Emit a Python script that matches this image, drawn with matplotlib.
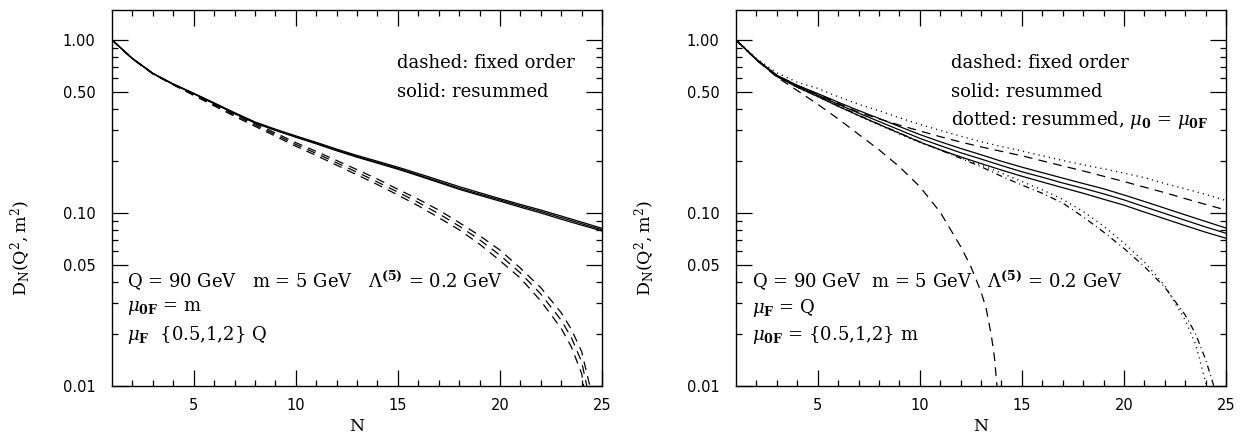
import matplotlib
matplotlib.use('Agg')
import matplotlib.pyplot as plt
from matplotlib.ticker import FixedLocator, FixedFormatter, NullFormatter

plt.rcParams['font.family'] = 'DejaVu Serif'
plt.rcParams['mathtext.fontset'] = 'dejavuserif'

# N values
N_all = [1, 2, 3, 4, 5, 6, 7, 8, 9, 10, 11, 12, 13, 14, 15, 16, 17, 18, 19, 20, 21, 22, 23, 24, 25]

# left panel: resummed (solid), mu_F = {0.5,1,2} Q
left_solid_a = [1, 0.782, 0.642, 0.557, 0.492, 0.433, 0.380, 0.336, 0.305, 0.279, 0.256, 0.234, 0.215, 0.199, 0.184,
                0.169, 0.155, 0.142, 0.131, 0.121, 0.112, 0.104, 0.096, 0.0885, 0.0815]
left_solid_b = [1, 0.780, 0.640, 0.555, 0.490, 0.430, 0.377, 0.333, 0.302, 0.276, 0.253, 0.231, 0.212, 0.196, 0.181,
                0.166, 0.152, 0.139, 0.1285, 0.119, 0.110, 0.102, 0.094, 0.0867, 0.080]
left_solid_c = [1, 0.778, 0.638, 0.553, 0.488, 0.428, 0.375, 0.331, 0.300, 0.274, 0.251, 0.229, 0.210, 0.194, 0.179,
                0.164, 0.150, 0.137, 0.1265, 0.117, 0.108, 0.100, 0.092, 0.0850, 0.0787]

# left panel: fixed order (dashed)
N_fo_a = [1, 2, 3, 4, 5, 6, 7, 8, 9, 10, 11, 12, 13, 14, 15, 16, 17, 18, 19, 20, 21, 22, 23, 23.5, 24, 24.1]
left_fo_a = [1, 0.778, 0.637, 0.550, 0.478, 0.416, 0.362, 0.317, 0.278, 0.243, 0.215, 0.189, 0.166, 0.146, 0.127,
             0.110, 0.094, 0.080, 0.066, 0.053, 0.042, 0.031, 0.0215, 0.0168, 0.0118, 0.01]
N_fo_b = [1, 2, 3, 4, 5, 6, 7, 8, 9, 10, 11, 12, 13, 14, 15, 16, 17, 18, 19, 20, 21, 22, 23, 23.5, 24, 24.25]
left_fo_b = [1, 0.779, 0.638, 0.552, 0.482, 0.422, 0.368, 0.323, 0.284, 0.249, 0.221, 0.195, 0.172, 0.151, 0.132,
             0.115, 0.099, 0.084, 0.070, 0.057, 0.045, 0.034, 0.024, 0.019, 0.0138, 0.01]
N_fo_c = [1, 2, 3, 4, 5, 6, 7, 8, 9, 10, 11, 12, 13, 14, 15, 16, 17, 18, 19, 20, 21, 22, 23, 23.5, 24, 24.4]
left_fo_c = [1, 0.780, 0.640, 0.554, 0.486, 0.428, 0.374, 0.329, 0.290, 0.255, 0.227, 0.201, 0.178, 0.157, 0.137,
             0.120, 0.104, 0.088, 0.074, 0.061, 0.048, 0.037, 0.0265, 0.0212, 0.0158, 0.01]

# right panel: resummed (solid), mu_0F = {0.5,1,2} m
right_solid_hi = [1, 0.772, 0.625, 0.547, 0.490, 0.437, 0.391, 0.352, 0.316, 0.284, 0.258, 0.236, 0.217, 0.199, 0.184,
                  0.171, 0.159, 0.148, 0.138, 0.127, 0.1165, 0.1066, 0.0975, 0.0893, 0.0818]
right_solid_mid = [1, 0.770, 0.620, 0.540, 0.480, 0.425, 0.378, 0.338, 0.302, 0.270, 0.245, 0.223, 0.205, 0.188, 0.173,
                   0.161, 0.149, 0.139, 0.129, 0.119, 0.1086, 0.0993, 0.0907, 0.083, 0.0763]
right_solid_lo = [1, 0.768, 0.615, 0.533, 0.471, 0.414, 0.366, 0.325, 0.289, 0.257, 0.232, 0.211, 0.193, 0.177, 0.163,
                  0.151, 0.140, 0.130, 0.120, 0.111, 0.1012, 0.0925, 0.0845, 0.0774, 0.0714]

# right panel: fixed order (dashed)
right_fo_hi = [1, 0.77, 0.625, 0.545, 0.487, 0.430, 0.382, 0.350, 0.322, 0.298, 0.276, 0.257, 0.241, 0.227, 0.214,
               0.200, 0.187, 0.175, 0.163, 0.152, 0.141, 0.131, 0.121, 0.112, 0.104]
N_fo_steep = [1, 2, 3, 4, 5, 6, 7, 8, 9, 10, 11, 12, 12.5, 13, 13.25, 13.5, 13.65, 13.78]
right_fo_steep = [1, 0.765, 0.61, 0.51, 0.425, 0.35, 0.285, 0.232, 0.185, 0.142, 0.101, 0.064, 0.049, 0.035, 0.028,
                  0.0197, 0.0148, 0.01]
N_fo_dd = [1, 2, 3, 4, 5, 6, 7, 8, 9, 10, 11, 12, 13, 14, 15, 16, 17, 18, 19, 20, 21, 22, 23, 23.5, 24, 24.4]
right_fo_dd = [1, 0.77, 0.617, 0.535, 0.474, 0.417, 0.368, 0.326, 0.290, 0.258, 0.231, 0.207, 0.185, 0.163, 0.145,
               0.130, 0.114, 0.095, 0.0776, 0.0624, 0.049, 0.0372, 0.0257, 0.0201, 0.0142, 0.01]

# right panel: resummed with mu_0 = mu_0F (dotted)
right_dot_hi = [1, 0.78, 0.645, 0.57, 0.525, 0.470, 0.425, 0.390, 0.355, 0.325, 0.300, 0.278, 0.258, 0.242, 0.228,
                0.214, 0.201, 0.190, 0.180, 0.170, 0.160, 0.148, 0.138, 0.128, 0.118]
N_dot_lo = [1, 2, 3, 4, 5, 6, 7, 8, 9, 10, 11, 12, 13, 14, 15, 16, 17, 18, 19, 20, 21, 22, 23, 23.5, 24.05]
right_dot_lo = [1, 0.77, 0.615, 0.532, 0.470, 0.413, 0.364, 0.322, 0.287, 0.256, 0.231, 0.209, 0.189, 0.170, 0.152,
                0.136, 0.120, 0.102, 0.084, 0.067, 0.052, 0.038, 0.024, 0.0175, 0.01]

ytick_major = [0.01, 0.05, 0.1, 0.5, 1.0]
ytick_labels = ['0.01', '0.05', '0.10', '0.50', '1.00']
ytick_minor = [0.02, 0.03, 0.04, 0.06, 0.07, 0.08, 0.09, 0.2, 0.3, 0.4, 0.6, 0.7, 0.8, 0.9]

dash = (0, (7, 5))
dashdot = (0, (5, 3, 0.8, 3))
dot = (0, (0.8, 3))

fig = plt.figure(figsize=(12.45, 4.34), dpi=100)
ax1 = fig.add_axes([0.0900, 0.1106, 0.3936, 0.8664])
ax2 = fig.add_axes([0.5912, 0.1106, 0.3936, 0.8664])

lw = 0.9
# left
for ys in [left_solid_a, left_solid_b, left_solid_c]:
    ax1.plot(N_all, ys, color='black', lw=lw)
ax1.plot(N_fo_a, left_fo_a, color='black', lw=lw, ls=dash)
ax1.plot(N_fo_b, left_fo_b, color='black', lw=lw, ls=dash)
ax1.plot(N_fo_c, left_fo_c, color='black', lw=lw, ls=dash)

# right
for ys in [right_solid_hi, right_solid_mid, right_solid_lo]:
    ax2.plot(N_all, ys, color='black', lw=lw)
ax2.plot(N_all, right_fo_hi, color='black', lw=lw, ls=dash)
ax2.plot(N_fo_steep, right_fo_steep, color='black', lw=lw, ls=dash)
ax2.plot(N_fo_dd, right_fo_dd, color='black', lw=lw, ls=dashdot)
ax2.plot(N_all, right_dot_hi, color='black', lw=1.0, ls=dot)
ax2.plot(N_dot_lo, right_dot_lo, color='black', lw=1.0, ls=dot)

for ax in [ax1, ax2]:
    ax.set_yscale('log')
    ax.set_xlim(1, 25)
    ax.set_ylim(0.01, 1.49)
    ax.set_xticks([5, 10, 15, 20, 25])
    ax.set_xticks(range(2, 25), minor=True)
    ax.yaxis.set_major_locator(FixedLocator(ytick_major))
    ax.yaxis.set_major_formatter(FixedFormatter(ytick_labels))
    ax.yaxis.set_minor_locator(FixedLocator(ytick_minor))
    ax.yaxis.set_minor_formatter(NullFormatter())
    ax.tick_params(which='both', direction='in', top=True, right=True, width=0.9)
    ax.tick_params(which='major', length=11.5)
    ax.tick_params(which='minor', length=4.3)
    ax.tick_params(axis='y', which='major', pad=12)
    ax.tick_params(axis='x', which='major', pad=9)
    for lab in ax.get_xticklabels() + ax.get_yticklabels():
        lab.set_fontfamily('DejaVu Sans')
        lab.set_fontsize(10.5)
    for sp in ax.spines.values():
        sp.set_linewidth(1.0)
    ax.set_xlabel('N', fontsize=12.5)
    ax.xaxis.set_label_coords(0.5, -0.085)
    ax.set_ylabel(r'$\mathrm{D_N(Q^2,m^2)}$', fontsize=12.5)
    ax.yaxis.set_label_coords(-0.162, 0.367)

fs = 13
ax1.text(0.582, 0.859, 'dashed: fixed order', transform=ax1.transAxes, fontsize=fs, va='center')
ax1.text(0.582, 0.782, 'solid: resummed', transform=ax1.transAxes, fontsize=fs, va='center')
ax1.text(0.031, 0.279, r'Q = 90 GeV   m = 5 GeV   $\Lambda^{\mathbf{(5)}}$ = 0.2 GeV',
         transform=ax1.transAxes, fontsize=fs, va='center')
ax1.text(0.031, 0.207, r'$\mu_{\mathbf{0F}}$ = m', transform=ax1.transAxes, fontsize=fs, va='center')
ax1.text(0.031, 0.136, r'$\mu_{\mathbf{F}}$  {0.5,1,2} Q', transform=ax1.transAxes, fontsize=fs, va='center')

ax2.text(0.439, 0.859, 'dashed: fixed order', transform=ax2.transAxes, fontsize=fs, va='center')
ax2.text(0.439, 0.782, 'solid: resummed', transform=ax2.transAxes, fontsize=fs, va='center')
ax2.text(0.439, 0.707, r'dotted: resummed, $\mu_{\mathbf{0}}$ = $\mu_{\mathbf{0F}}$', transform=ax2.transAxes,
         fontsize=fs, va='center')
ax2.text(0.032, 0.279, r'Q = 90 GeV  m = 5 GeV   $\Lambda^{\mathbf{(5)}}$ = 0.2 GeV',
         transform=ax2.transAxes, fontsize=fs, va='center')
ax2.text(0.032, 0.207, r'$\mu_{\mathbf{F}}$ = Q', transform=ax2.transAxes, fontsize=fs, va='center')
ax2.text(0.032, 0.136, r'$\mu_{\mathbf{0F}}$ = {0.5,1,2} m', transform=ax2.transAxes, fontsize=fs, va='center')

fig.savefig('out.png', dpi=100)
